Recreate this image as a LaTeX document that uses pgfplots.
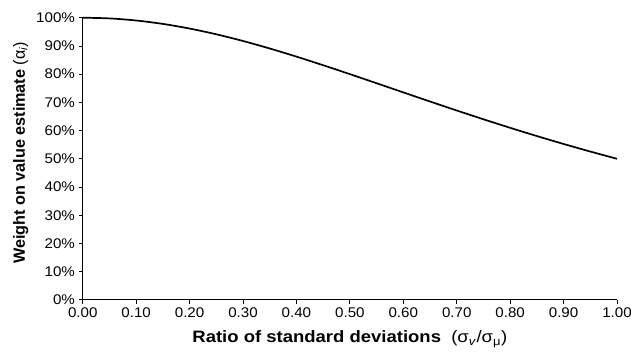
\documentclass[border=0pt]{standalone}
\usepackage{fontspec}
\setmainfont{Liberation Sans}
\usepackage{pgfplots}
\pgfplotsset{compat=1.18}
\begin{document}
\begin{tikzpicture}
\begin{axis}[
  scale only axis,
  width=534pt, height=282pt,
  xmin=0, xmax=1, ymin=0, ymax=100,
  axis lines=left,
  axis line style={line width=0.8pt, -},
  xtick={0,0.1,...,1.0},
  ytick={0,10,...,100},
  tick style={black, line width=0.8pt},
  tick align=outside,
  major tick length=4pt,
  /pgf/number format/assume math mode=true,
  xticklabel style={/pgf/number format/.cd, fixed, fixed zerofill, precision=2},
  yticklabel={\pgfmathprintnumber{\tick}\%},
  ticklabel style={font=\fontsize{14}{16}\selectfont, xscale=1.08},
  xlabel={\textbf{Ratio of standard deviations} \ (σ\textsubscript{\textit{v}}/σ\textsubscript{μ})},
  ylabel={\textbf{Weight on value estimate} (α\textsubscript{\textit{i}})},
  xlabel style={font=\fontsize{16.5}{18}\selectfont, xscale=1.12, at={(rel axis cs:0.5,0)}, anchor=center, yshift=-39pt},
  ylabel style={font=\fontsize{16.2}{18}\selectfont, at={(rel axis cs:0,0.5)}, anchor=center, yshift=62pt, xshift=6pt},
  clip=false,
]
\addplot[black, line width=1.7pt, smooth] coordinates {
(0,100) (0.05,99.751) (0.1,99.0099) (0.15,97.7995) (0.2,96.1538) (0.25,94.1176)
(0.3,91.7431) (0.35,89.0869) (0.4,86.2069) (0.45,83.1601) (0.5,80.0)
(0.55,76.7754) (0.6,73.5294) (0.65,70.2988) (0.7,67.1141) (0.75,64.0)
(0.8,60.9756) (0.85,58.0552) (0.9,55.2486) (0.95,52.5624) (1.0,50.0)
};
\coordinate (LL) at (rel axis cs:0,0);
\coordinate (UR) at (rel axis cs:1,1);
\end{axis}
\pgfresetboundingbox
\path ([xshift=-82.7pt,yshift=-58pt]LL) rectangle ([xshift=14pt,yshift=17.7pt]UR);
\end{tikzpicture}
\end{document}
